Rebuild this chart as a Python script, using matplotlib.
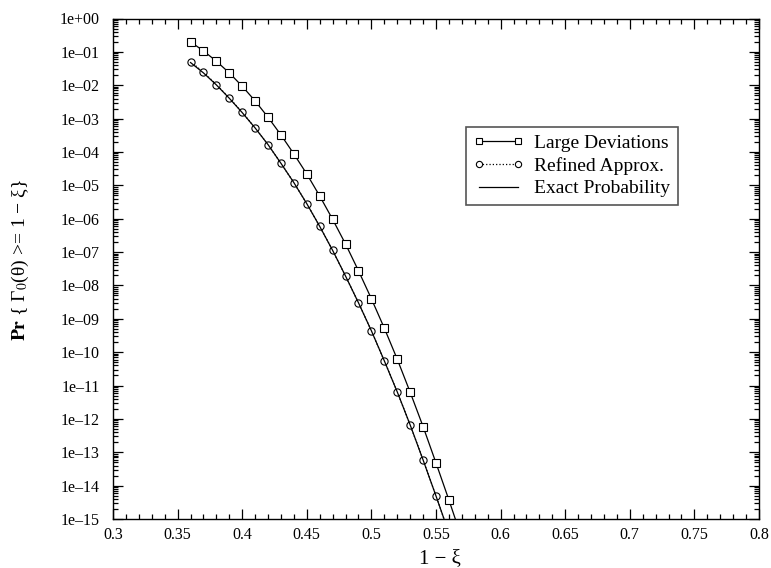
import numpy as np
import matplotlib
matplotlib.use("Agg")
import matplotlib.pyplot as plt
from matplotlib.ticker import FixedLocator, MultipleLocator, LogLocator, NullFormatter

plt.rcParams['font.family'] = ['Liberation Serif', 'DejaVu Serif']
plt.rcParams['mathtext.fontset'] = 'stix'

x_ld = [0.36, 0.37, 0.38, 0.39, 0.40, 0.41, 0.42, 0.43, 0.44, 0.45, 0.46,
        0.47, 0.48, 0.49, 0.50, 0.51, 0.52, 0.53, 0.54, 0.55, 0.56, 0.57]
log_ld = [-0.70, -0.97, -1.28, -1.63, -2.03, -2.47, -2.96, -3.49, -4.06, -4.66, -5.32,
          -6.02, -6.76, -7.56, -8.40, -9.28, -10.21, -11.20, -12.23, -13.32, -14.43, -15.58]

x_ra = [0.36, 0.37, 0.38, 0.39, 0.40, 0.41, 0.42, 0.43, 0.44, 0.45, 0.46,
        0.47, 0.48, 0.49, 0.50, 0.51, 0.52, 0.53, 0.54, 0.55, 0.56]
log_ra = [-1.29, -1.61, -1.98, -2.38, -2.81, -3.28, -3.78, -4.34, -4.92, -5.55, -6.23,
          -6.95, -7.72, -8.52, -9.36, -10.26, -11.19, -12.18, -13.23, -14.31, -15.42]
log_ex = [-1.32, -1.63, -1.99, -2.39, -2.82, -3.28, -3.78, -4.34, -4.92, -5.55, -6.23,
          -6.95, -7.72, -8.52, -9.36, -10.26, -11.19, -12.18, -13.23, -14.31, -15.42]

ytick_vals = [10.0**(-k) for k in range(0, 16)]
ytick_labels = ['1e+00'] + ['1e\u2013%02d' % k for k in range(1, 16)]
xtick_vals = [0.3, 0.35, 0.4, 0.45, 0.5, 0.55, 0.6, 0.65, 0.7, 0.75, 0.8]
xtick_labels = ['0.3', '0.35', '0.4', '0.45', '0.5', '0.55', '0.6', '0.65', '0.7', '0.75', '0.8']

fig = plt.figure(figsize=(7.71, 5.68), dpi=100)
ax = fig.add_axes([113/771, 1 - 519/568, (759-113)/771, (519-18.5)/568])

ld = 10.0**np.array(log_ld)
ra = 10.0**np.array(log_ra)
ex = 10.0**np.array(log_ex)

ax.plot(x_ld, ld, '-', color='black', lw=0.9, marker='s', ms=5.2,
        mfc='white', mec='black', mew=0.8, label='Large Deviations')
ax.plot(x_ra, ra, ':', color='black', lw=0.9, marker='o', ms=5.2,
        mfc='white', mec='black', mew=0.8, label='Refined Approx.')
ax.plot(x_ra, ex, '-', color='black', lw=0.9, label='Exact Probability')

ax.set_yscale('log')
ax.set_xlim(0.3, 0.8)
ax.set_ylim(1e-15, 1.0)
ax.yaxis.set_major_locator(FixedLocator(ytick_vals))
ax.set_yticklabels(ytick_labels)
ax.yaxis.set_minor_locator(LogLocator(base=10, subs=np.arange(2, 10), numticks=100))
ax.yaxis.set_minor_formatter(NullFormatter())
ax.set_xticks(xtick_vals)
ax.set_xticklabels(xtick_labels)
ax.xaxis.set_minor_locator(MultipleLocator(0.01))

ax.tick_params(which='both', direction='in', top=True, right=True, labelsize=11.5, width=0.9)
ax.tick_params(which='major', length=7)
ax.tick_params(which='minor', length=3.5)
ax.tick_params(axis='y', which='major', pad=9.5)
ax.tick_params(axis='x', which='major', pad=5.8)
for s in ax.spines.values():
    s.set_linewidth(1.0)

ax.set_xlabel('1 \u2212 \u03be', fontsize=15)
ax.xaxis.set_label_coords((439.5-113)/646, (519-549)/500.5)
ax.set_ylabel('$\\mathbf{Pr}$ { \u0393$_0$(\u03b8) >= 1 \u2212 \u03be}', fontsize=14)
ax.yaxis.set_label_coords((31-113)/646, (519-260)/500.5)

leg = ax.legend(loc='upper left', bbox_to_anchor=((456-113)/646, (519-117)/500.5),
                fontsize=14, numpoints=2, handlelength=2.6, handletextpad=0.5,
                borderpad=0.4, labelspacing=0.25, fancybox=False, framealpha=1,
                edgecolor='#555555')
leg.get_frame().set_linewidth(1.2)
for h in leg.legend_handles:
    try:
        h.set_markersize(4.5)
    except Exception:
        pass

fig.savefig('out.png', dpi=100)
